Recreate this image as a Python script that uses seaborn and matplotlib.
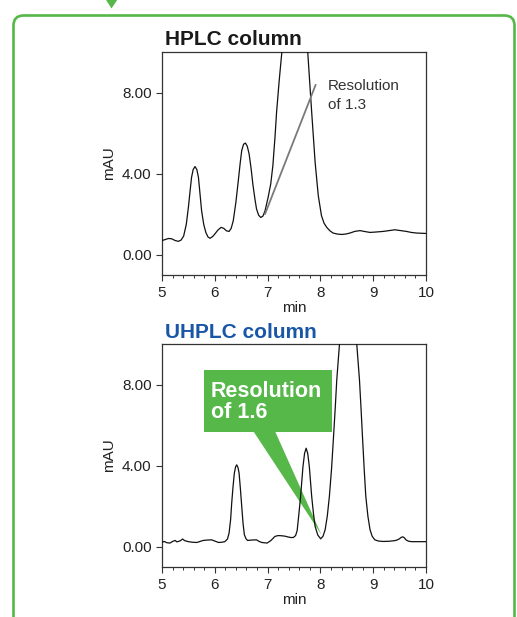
import numpy as np
import pandas as pd
import matplotlib
matplotlib.use("Agg")
import matplotlib.pyplot as plt
import seaborn as sns
from matplotlib.patches import FancyBboxPatch, Polygon, Rectangle
from matplotlib.ticker import MultipleLocator, FixedLocator

# ---------------- data ----------------
hplc_time = [5.00, 5.05, 5.12, 5.18, 5.25, 5.31, 5.36, 5.41, 5.46, 5.50, 5.53, 5.56, 5.59, 5.625,
             5.66, 5.69, 5.72, 5.75, 5.79, 5.83, 5.87, 5.91, 5.96, 6.00, 6.06, 6.12, 6.17, 6.22,
             6.27, 6.31, 6.35, 6.40, 6.445, 6.48, 6.51, 6.545, 6.58, 6.615, 6.65, 6.69, 6.72,
             6.76, 6.79, 6.83, 6.87, 6.91, 6.95, 7.01, 7.06, 7.10, 7.14, 7.17, 7.22, 7.27, 7.35,
             7.45, 7.52, 7.60, 7.70, 7.76, 7.835, 7.90, 7.96, 8.02, 8.07, 8.12, 8.18, 8.24, 8.32,
             8.40, 8.48, 8.56, 8.65, 8.75, 8.85, 8.94, 9.05, 9.19, 9.30, 9.41, 9.52, 9.63, 9.72,
             9.82, 9.90, 10.00]
hplc_mau = [0.70, 0.74, 0.80, 0.79, 0.70, 0.66, 0.72, 0.92, 1.50, 2.34, 3.10, 3.82, 4.20, 4.35,
            4.20, 3.82, 3.00, 2.17, 1.50, 1.10, 0.88, 0.81, 0.90, 1.02, 1.22, 1.35, 1.30, 1.18,
            1.15, 1.30, 1.68, 2.60, 3.65, 4.50, 5.14, 5.45, 5.51, 5.35, 4.97, 4.20, 3.49,
            2.75, 2.26, 1.95, 1.84, 1.90, 2.15, 2.83, 3.50, 4.40, 5.80, 7.03, 8.60, 10.0, 12.3,
            14.5, 15.0, 14.4, 12.0, 10.0, 7.03, 4.56, 2.91, 1.93, 1.55, 1.35, 1.18, 1.07, 1.02,
            1.00, 1.02, 1.07, 1.15, 1.19, 1.14, 1.10, 1.12, 1.15, 1.19, 1.23, 1.19, 1.15, 1.10,
            1.07, 1.06, 1.05]

uhplc_time = [5.00, 5.04, 5.09, 5.15, 5.20, 5.25, 5.28, 5.31, 5.35, 5.39, 5.43, 5.50, 5.58, 5.66,
              5.72, 5.78, 5.86, 5.94, 6.00, 6.07, 6.13, 6.19, 6.24, 6.27, 6.30, 6.32, 6.345, 6.37,
              6.395, 6.415, 6.44, 6.46, 6.485, 6.51, 6.535, 6.56, 6.59, 6.62, 6.70, 6.79, 6.84,
              6.89, 6.99, 7.06, 7.14, 7.20, 7.27, 7.33, 7.39, 7.45, 7.49, 7.53, 7.56, 7.59, 7.625,
              7.67, 7.70, 7.73, 7.76, 7.79, 7.835, 7.87, 7.90, 7.95, 8.005, 8.05, 8.09, 8.13, 8.17,
              8.21, 8.245, 8.28, 8.31, 8.36, 8.40, 8.45, 8.525, 8.60, 8.65, 8.69, 8.74, 8.77, 8.80,
              8.83, 8.86, 8.90, 8.94, 8.98, 9.03, 9.10, 9.19, 9.30, 9.41, 9.46, 9.49, 9.53, 9.56,
              9.59, 9.62, 9.67, 9.73, 9.85, 10.00]
uhplc_mau = [0.22, 0.26, 0.20, 0.18, 0.26, 0.31, 0.24, 0.26, 0.30, 0.38, 0.30, 0.25, 0.22, 0.21,
             0.26, 0.31, 0.33, 0.34, 0.28, 0.21, 0.22, 0.25, 0.38, 0.67, 1.35, 2.15, 2.95, 3.63,
             3.95, 4.04, 3.90, 3.63, 2.85, 1.99, 1.15, 0.59, 0.40, 0.31, 0.33, 0.34, 0.26,
             0.21, 0.18, 0.30, 0.51, 0.55, 0.54, 0.52, 0.48, 0.45, 0.46, 0.55, 0.80, 1.55, 2.48,
             3.96, 4.60, 4.86, 4.60, 3.96, 2.48, 1.60, 1.00, 0.58, 0.39, 0.52, 0.84, 1.50, 2.48,
             3.80, 5.27, 6.80, 8.23, 9.95, 11.8, 13.8, 15.0, 13.8, 11.8, 9.95, 8.23, 6.80, 5.27,
             3.80, 2.48, 1.50, 0.84, 0.52, 0.34, 0.28, 0.26, 0.27, 0.30, 0.34, 0.38, 0.46, 0.49,
             0.44, 0.34, 0.27, 0.25, 0.25, 0.25]

x_ticks = [5, 6, 7, 8, 9, 10]
y_ticks = [0.0, 4.0, 8.0]
y_tick_labels = ["0.00", "4.00", "8.00"]
titles = ["HPLC column", "UHPLC column"]
hplc_note = ["Resolution", "of 1.3"]
uhplc_note = ["Resolution", "of 1.6"]

# ---------------- style ----------------
sns.set_style("ticks")
plt.rcParams["font.family"] = ["Liberation Sans", "DejaVu Sans"]

GREEN = "#55b848"
BLUE = "#1a56a8"
DARK = "#222222"

fig = plt.figure(figsize=(5.17, 6.17), dpi=100)

ax1 = fig.add_axes([162/517, 1-275/617, 264/517, 223/617])
ax2 = fig.add_axes([162/517, 1-567/617, 264/517, 223/617])

df1 = pd.DataFrame({"min": hplc_time, "mAU": hplc_mau})
df2 = pd.DataFrame({"min": uhplc_time, "mAU": uhplc_mau})

for ax, df in ((ax1, df1), (ax2, df2)):
    sns.lineplot(data=df, x="min", y="mAU", ax=ax, color="#111111", linewidth=0.9,
                 sort=False, estimator=None, zorder=3)
    ax.set_xlim(5, 10)
    ax.set_ylim(-1, 10)
    ax.xaxis.set_major_locator(FixedLocator(x_ticks))
    ax.xaxis.set_minor_locator(MultipleLocator(0.2))
    ax.set_yticks(y_ticks)
    ax.set_yticklabels(y_tick_labels)
    ax.tick_params(axis="both", which="major", length=4, width=0.8, color="#333333",
                   labelsize=11, labelcolor=DARK, pad=3.5)
    ax.tick_params(axis="x", which="minor", length=2.3, width=0.7, color="#333333")
    ax.tick_params(axis="x", which="major", pad=4)
    for s in ax.spines.values():
        s.set_visible(True)
        s.set_linewidth(0.9)
        s.set_color("#333333")
    ax.set_xlabel("min", fontsize=11, color=DARK, labelpad=1)
    ax.set_ylabel("mAU", fontsize=11, color=DARK, labelpad=4)

# titles
fig.text(165/517, 1-45/617, titles[0], fontsize=15, fontweight="bold", color="#1a1a1a",
         ha="left", va="baseline")
fig.text(165/517, 1-338.5/617, titles[1], fontsize=15, fontweight="bold", color=BLUE,
         ha="left", va="baseline")

# HPLC annotation
ax1.plot([6.95, 7.91], [2.0, 8.38], color="#7a7a7a", linewidth=1.3, zorder=4)
ax1.text(8.14, 8.13, hplc_note[0], fontsize=11, color="#333333", ha="left", va="baseline")
ax1.text(8.14, 7.19, hplc_note[1], fontsize=11, color="#333333", ha="left", va="baseline")

# UHPLC callout
ax2.add_patch(Polygon([(6.73, 5.70), (7.14, 5.70), (8.02, 0.59)], closed=True,
                      facecolor=GREEN, edgecolor="none", zorder=2))
ax2.add_patch(Rectangle((5.795, 5.68), 8.214-5.795, 8.72-5.68, facecolor=GREEN,
                        edgecolor="none", zorder=2))
ax2.text(5.93, 7.40, uhplc_note[0], fontsize=15.5, fontweight="bold", color="white",
         ha="left", va="baseline", zorder=5)
ax2.text(5.93, 6.37, uhplc_note[1], fontsize=15.5, fontweight="bold", color="white",
         ha="left", va="baseline", zorder=5)

# green frame and arrow (in inches)
frame = FancyBboxPatch((0.135, -0.3), 5.01, 6.015 + 0.3,
                       boxstyle="round,pad=0,rounding_size=0.1",
                       transform=fig.dpi_scale_trans, facecolor="none",
                       edgecolor=GREEN, linewidth=1.9, clip_on=False)
fig.add_artist(frame)
arrow = Polygon([(1.01, 6.25), (1.225, 6.25), (1.115, 6.085)], closed=True,
                transform=fig.dpi_scale_trans, facecolor=GREEN, edgecolor="none",
                clip_on=False)
fig.add_artist(arrow)

fig.savefig("out.png", dpi=100)
